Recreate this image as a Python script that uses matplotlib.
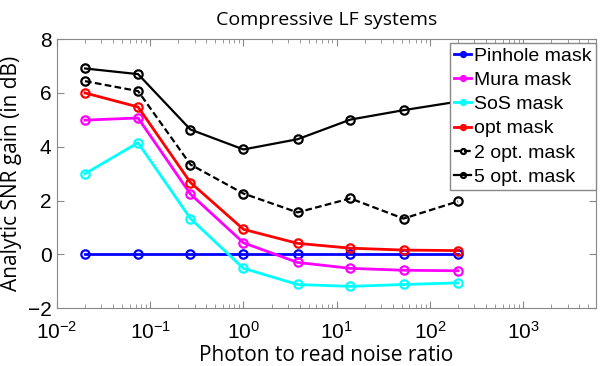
import matplotlib
matplotlib.use("Agg")
import matplotlib.pyplot as plt

ratio = [0.02, 0.074, 0.27, 1.0, 3.8, 14, 52, 200]

pinhole = [0, 0, 0, 0, 0, 0, 0, 0]
mura = [4.99, 5.07, 2.24, 0.43, -0.30, -0.52, -0.59, -0.61]
sos = [3.0, 4.15, 1.33, -0.52, -1.12, -1.19, -1.12, -1.06]
opt = [6.0, 5.48, 2.67, 0.93, 0.41, 0.23, 0.16, 0.14]
opt2 = [6.44, 6.07, 3.34, 2.26, 1.56, 2.08, 1.33, 1.97]
opt5 = [6.91, 6.70, 4.64, 3.90, 4.28, 5.01, 5.36, 5.68]

series = [
    ("Pinhole mask", pinhole, "#0000ff", "-"),
    ("Mura mask", mura, "#ff00ff", "-"),
    ("SoS mask", sos, "#00ffff", "-"),
    ("opt mask", opt, "#ff0000", "-"),
    ("2 opt. mask", opt2, "black", "--"),
    ("5 opt. mask", opt5, "black", "-"),
]

fig = plt.figure(figsize=(6, 3.66), dpi=100)
ax = fig.add_axes([0.095, 0.158, 0.898, 0.735])

for name, vals, col, ls in series:
    lw = 1.6 if col == "black" else 2.0
    line, = ax.plot(ratio, vals, ls, color=col, lw=lw, marker="o", ms=6,
                    mfc="none", mew=1.6, label=name)
    if ls == "--":
        line.set_dashes((3, 1.5))

ax.set_xscale("log")
ax.set_xlim(0.01, 6000)
ax.set_ylim(-2, 8)
ax.set_yticks([-2, 0, 2, 4, 6, 8])
ax.tick_params(which="both", direction="in", top=True, right=True,
               colors="#888888", labelcolor="black", labelsize=15)
ax.tick_params(which="major", length=5)
ax.tick_params(which="minor", length=3)
ax.tick_params(axis="x", which="major", pad=9)
ax.tick_params(axis="y", which="major", pad=4)
for lab in ax.get_xticklabels() + ax.get_yticklabels():
    lab.set_family("Liberation Sans")
for sp in ax.spines.values():
    sp.set_color("#888888")

ax.set_title("Compressive LF systems", family="Open Sans", fontsize=14, pad=10)
ax.set_xlabel("Photon to read noise ratio", family="Open Sans", fontsize=15,
              labelpad=2)
ax.set_ylabel("Analytic SNR gain (in dB)", family="Open Sans", fontsize=15)

leg = ax.legend(loc="upper right", bbox_to_anchor=(1.0, 0.985),
                prop={"family": "Liberation Sans", "size": 14},
                handlelength=0.9, handletextpad=0.15, borderaxespad=0,
                labelspacing=0.34, fancybox=False, framealpha=1, markerscale=0.6,
                borderpad=0.2)
leg.get_frame().set_edgecolor("#888888")

fig.savefig("out.png", dpi=100)
